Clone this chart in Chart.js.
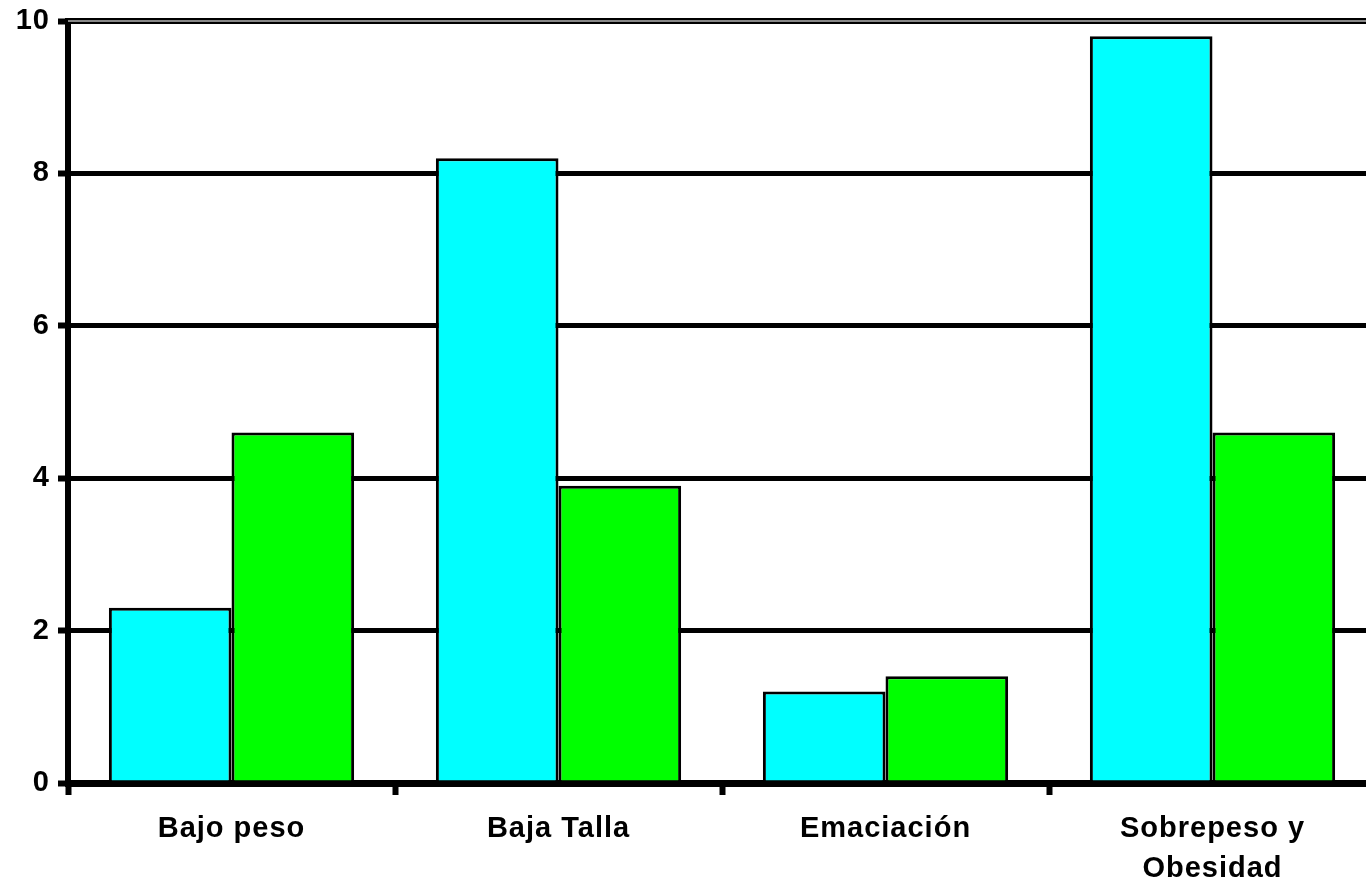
<!DOCTYPE html>
<html>
<head>
<meta charset="utf-8">
<script src="https://cdn.jsdelivr.net/npm/chart.js@4/dist/chart.umd.min.js"></script>
<style>
  html, body { margin: 0; padding: 0; background: #fff; overflow: hidden; }
  #wrap { width: 1366px; height: 885px; overflow: hidden; }
  canvas { display: block; }
</style>
</head>
<body>
<div id="wrap"><canvas id="c" width="1376" height="885"></canvas></div>
<script>
// Prevalencia por categoría de estado nutricional (%)
const categories = ['Bajo peso', 'Baja Talla', 'Emaciación', ['Sobrepeso y', 'Obesidad']];
const serieCyan  = [2.3, 8.2, 1.2, 9.8];
const serieVerde = [4.6, 3.9, 1.4, 4.6];
const yTicks = [0, 2, 4, 6, 8, 10];

const FONT = "'Liberation Sans', Arial, sans-serif";

// Slightly spaced lettering for all labels
const spacing = {
  id: 'spacing',
  beforeDraw(chart) { chart.ctx.letterSpacing = '1px'; }
};

// Top gridline is drawn as a double rule: black edges with a grey core
const topRule = {
  id: 'topRule',
  beforeDatasetsDraw(chart) {
    const y = chart.scales.y.getPixelForValue(yTicks[yTicks.length - 1]);
    const { left, right } = chart.chartArea;
    const ctx = chart.ctx;
    ctx.save();
    ctx.fillStyle = '#000';
    ctx.fillRect(left, y - 3, right - left, 6);
    ctx.fillStyle = '#888';
    ctx.fillRect(left, y - 1, right - left, 2);
    ctx.restore();
  }
};

new Chart(document.getElementById('c'), {
  type: 'bar',
  data: {
    labels: categories,
    datasets: [
      { data: serieCyan, backgroundColor: '#00ffff', borderColor: '#000', borderWidth: 3, borderSkipped: 'bottom' },
      { data: serieVerde, backgroundColor: '#00ff00', borderColor: '#000', borderWidth: 3, borderSkipped: 'bottom' }
    ]
  },
  options: {
    responsive: false,
    animation: false,
    devicePixelRatio: 1,
    layout: { padding: { top: 21, right: 0, left: 0, bottom: 0 } },
    plugins: { legend: { display: false }, tooltip: { enabled: false } },
    datasets: { bar: { categoryPercentage: 0.75, barPercentage: 1.0 } },
    scales: {
      x: {
        offset: true,
        grid: {
          display: true, drawOnChartArea: false, offset: true,
          tickLength: 12, tickWidth: 6, tickColor: '#000'
        },
        border: { display: true, color: '#000', width: 7 },
        ticks: {
          color: '#000', padding: 14, maxRotation: 0,
          font: { family: FONT, size: 29, weight: 'bold', lineHeight: 1.38 }
        },
        afterFit(s) { s.height = 102; }
      },
      y: {
        min: 0, max: 10,
        afterBuildTicks(s) { s.ticks = yTicks.map(v => ({ value: v })); },
        grid: {
          color: '#000', lineWidth: 5,
          tickLength: 10, tickWidth: 6, tickColor: '#000'
        },
        border: { display: true, color: '#000', width: 6 },
        ticks: {
          color: '#000', padding: 8,
          font: { family: FONT, size: 29, weight: 'bold', lineHeight: 1 }
        },
        afterFit(s) { s.width = 68; s.paddingTop = 0; }
      }
    }
  },
  plugins: [spacing, topRule]
});
</script>
</body>
</html>
